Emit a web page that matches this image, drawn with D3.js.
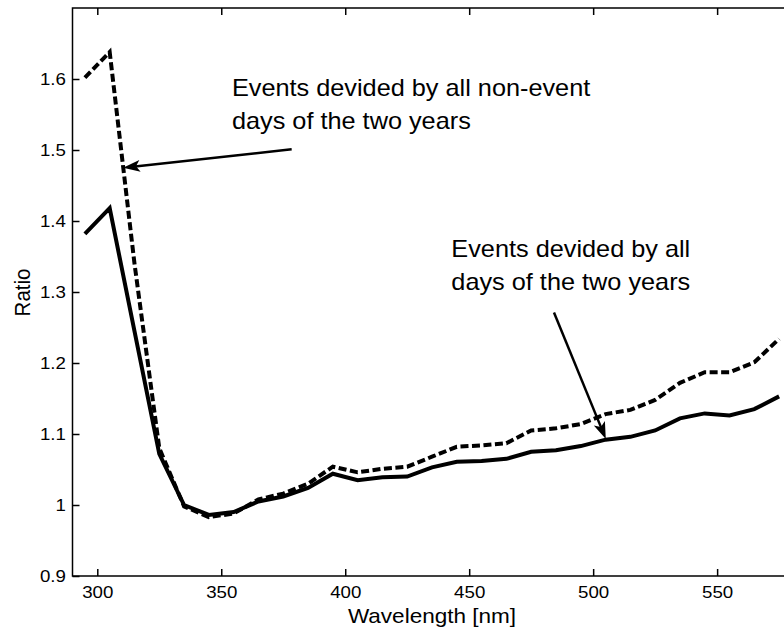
<!DOCTYPE html>
<html>
<head>
<meta charset="utf-8">
<script src="https://cdn.jsdelivr.net/npm/d3@7"></script>
<style>
  body { margin: 0; background: #fff; }
  svg { display: block; font-family: "Liberation Sans", Arial, sans-serif; }
</style>
</head>
<body>
<div id="grafico"></div>
<script>
// comprimentos de onda (nm)
const wavelengths = [295,305,315,325,335,345,355,365,375,385,395,405,415,425,435,445,455,465,475,485,495,505,515,525,535,545,555,565,575];
// eventos / todos os dias (linha cheia)
const allDays = [1.382,1.418,1.245,1.072,1.000,0.986,0.990,1.005,1.012,1.024,1.044,1.035,1.039,1.040,1.053,1.061,1.062,1.065,1.075,1.077,1.083,1.092,1.096,1.105,1.122,1.129,1.126,1.135,1.153];
// eventos / dias sem evento (tracejada)
const nonEventDays = [1.602,1.638,1.340,1.080,0.998,0.983,0.988,1.008,1.016,1.030,1.054,1.046,1.051,1.054,1.068,1.082,1.084,1.087,1.105,1.108,1.114,1.128,1.134,1.148,1.172,1.187,1.187,1.201,1.234];

const xTicks = [300,350,400,450,500,550];
const yTicks = [0.9,1.0,1.1,1.2,1.3,1.4,1.5,1.6];
const yTickLabels = ["0.9","1","1.1","1.2","1.3","1.4","1.5","1.6"];

const notes = [
  {lines:["Events devided by all non-event","days of the two years"], x:354.3, y:1.5756},
  {lines:["Events devided by all","days of the two years"], x:442.8, y:1.3487}
];
const arrows = [
  {from:[378.4,1.501], to:[310.4,1.475]},
  {from:[484.2,1.271], to:[505.1,1.093]}
];

const W=784, H=633;
const esq=72.5, dir=791.5, topo=8, baixo=576;
const esticar = "scale(1.1,1)";

const svg=d3.select('#grafico').append('svg')
  .attr('width',W).attr('height',H);
svg.append('rect').attr('width',W).attr('height',H).attr('fill','#fff');

const x=d3.scaleLinear().domain([290,580]).range([esq,dir]);
const y=d3.scaleLinear().domain([0.9,1.7]).range([baixo,topo]);

// eixos com ticks para dentro (estilo matlab)
const gB=svg.append('g').attr('transform',`translate(0,${baixo})`)
  .call(d3.axisBottom(x).tickValues(xTicks).tickSize(-7).tickPadding(10));
const gT=svg.append('g').attr('transform',`translate(0,${topo})`)
  .call(d3.axisTop(x).tickValues(xTicks).tickSize(-7).tickFormat(''));
const gL=svg.append('g').attr('transform',`translate(${esq},0)`)
  .call(d3.axisLeft(y).tickValues(yTicks).tickSize(-7).tickPadding(6)
    .tickFormat((d,i)=>yTickLabels[i]));
const gR=svg.append('g').attr('transform',`translate(${dir},0)`)
  .call(d3.axisRight(y).tickValues(yTicks).tickSize(-7).tickFormat(''));

for(const g of [gB,gT,gL,gR]){
  g.select('.domain').remove();
  g.selectAll('line').attr('stroke','#000').attr('stroke-width',1.5);
  g.selectAll('text').attr('fill','#000').style('font-size','17px')
    .attr('font-family','"Liberation Sans", Arial, sans-serif')
    .attr('transform',esticar);
}

svg.append('rect').attr('x',esq).attr('y',topo)
  .attr('width',dir-esq).attr('height',baixo-topo)
  .attr('fill','none').attr('stroke','#000').attr('stroke-width',1.5);

// linhas
const linha=d3.line().x(d=>x(d[0])).y(d=>y(d[1]));
svg.append('path').datum(wavelengths.map((w,i)=>[w,allDays[i]]))
  .attr('d',linha).attr('fill','none').attr('stroke','#000')
  .attr('stroke-width',4).attr('stroke-linejoin','miter');
svg.append('path').datum(wavelengths.map((w,i)=>[w,nonEventDays[i]]))
  .attr('d',linha).attr('fill','none').attr('stroke','#000')
  .attr('stroke-width',4).attr('stroke-dasharray','8,3.5').attr('stroke-linejoin','miter');

// setas
for(const a of arrows){
  const x1=x(a.from[0]), y1=y(a.from[1]), x2=x(a.to[0]), y2=y(a.to[1]);
  const ang=Math.atan2(y2-y1,x2-x1)*180/Math.PI;
  const tam=Math.hypot(x2-x1,y2-y1);
  const g=svg.append('g').attr('transform',`translate(${x1},${y1}) rotate(${ang})`);
  g.append('line').attr('x1',0).attr('y1',0).attr('x2',tam-12).attr('y2',0)
    .attr('stroke','#000').attr('stroke-width',2.5);
  g.append('path').attr('d',`M${tam},0 L${tam-17},-6 L${tam-13},0 L${tam-17},6 Z`)
    .attr('fill','#000');
}

// textos das anotações
for(const n of notes){
  n.lines.forEach((t,i)=>{
    svg.append('text')
      .attr('transform',`translate(${x(n.x)},${y(n.y)+i*32.5}) ${esticar}`)
      .style('font-size','23px').attr('fill','#000').text(t);
  });
}

// rótulos dos eixos
svg.append('text')
  .attr('transform',`translate(${(esq+dir)/2 + 0},623) ${esticar}`)
  .attr('text-anchor','middle').style('font-size','20.5px').text('Wavelength [nm]');
svg.append('text')
  .attr('transform',`translate(30,292.5) ${esticar} rotate(-90)`)
  .attr('text-anchor','middle').style('font-size','20.5px').text('Ratio');
</script>
</body>
</html>
